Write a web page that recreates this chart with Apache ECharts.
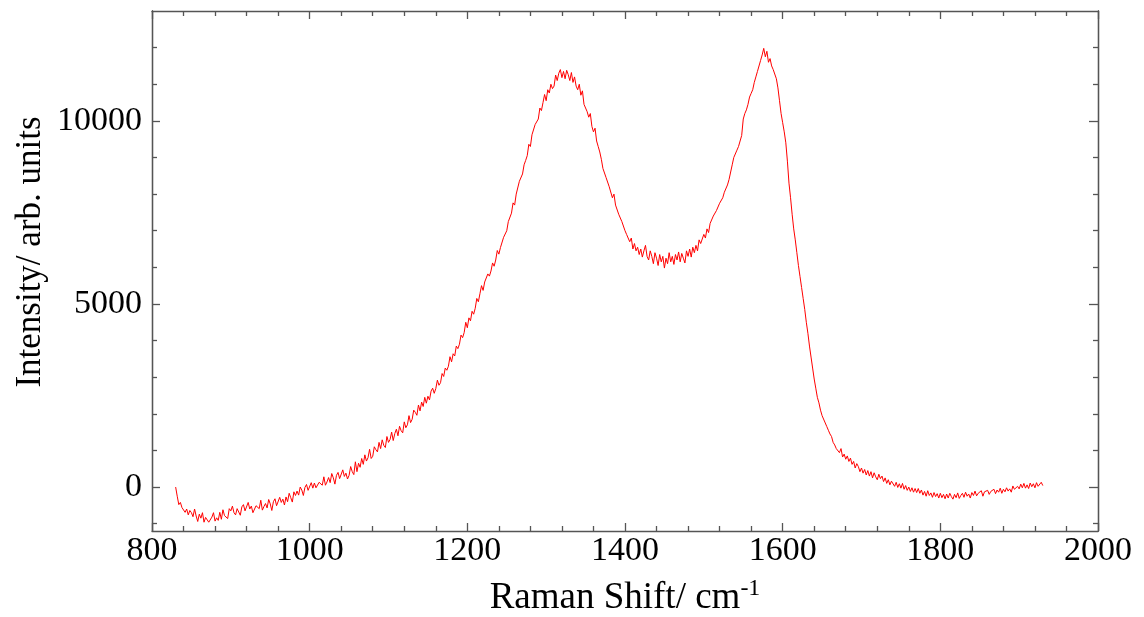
<!DOCTYPE html>
<html>
<head>
<meta charset="utf-8">
<script src="https://cdn.jsdelivr.net/npm/echarts@6/dist/echarts.min.js"></script>
<style>
html,body{margin:0;padding:0;background:#fff;}
#c{width:1144px;height:617px;}
</style>
</head>
<body>
<div id="c"></div>
<script>
// Raman spectrum: [Raman shift (cm-1), intensity (arb. units)]
const spectrum = [
[830,0],[832,-250],[834,-480],[836,-420],[838,-560],[840,-520],[842,-690],[844,-600],[846,-760],[848,-640],
[850,-700],[852,-810],[854,-600],[856,-790],[858,-940],[860,-740],[862,-850],[864,-700],[866,-960],[868,-830],
[870,-780],[872,-960],[874,-1010],[876,-820],[878,-700],[880,-930],[882,-840],[884,-910],[886,-690],[888,-880],
[890,-620],[892,-780],[894,-760],[896,-860],[898,-590],[900,-650],[902,-520],[904,-700],[906,-760],[908,-590],
[910,-590],[912,-770],[914,-540],[916,-480],[918,-650],[920,-690],[922,-420],[924,-600],[926,-520],[928,-700],
[930,-680],[932,-510],[934,-460],[936,-590],[938,-360],[940,-630],[942,-530],[944,-450],[946,-570],[948,-340],
[950,-460],[952,-640],[954,-400],[956,-320],[958,-510],[960,-520],[962,-280],[964,-420],[966,-330],[968,-490],
[970,-270],[972,-400],[974,-170],[976,-290],[978,-410],[980,-130],[982,-230],[984,-110],[986,-220],[988,0],
[990,-80],[992,-230],[994,-10],[996,70],[998,-90],[1000,-120],[1002,120],[1004,-30],[1006,110],[1008,-20],
[1010,-60],[1012,130],[1014,180],[1016,50],[1018,280],[1020,50],[1022,140],[1024,260],[1026,120],[1028,370],
[1030,250],[1032,80],[1034,320],[1036,400],[1038,230],[1040,200],[1042,470],[1044,290],[1046,380],[1048,220],
[1050,320],[1052,560],[1054,420],[1056,340],[1058,690],[1060,420],[1062,650],[1064,540],[1066,780],[1068,620],
[1070,880],[1072,710],[1074,800],[1076,1030],[1078,780],[1080,840],[1082,1100],[1084,1020],[1086,960],[1088,1220],
[1090,1050],[1092,1290],[1094,1140],[1096,1080],[1098,1380],[1100,1220],[1102,1300],[1104,1500],[1106,1270],[1108,1460],
[1110,1580],[1112,1400],[1114,1660],[1116,1540],[1118,1480],[1120,1780],[1122,1620],[1124,1700],[1126,1950],[1128,1760],
[1130,1850],[1132,2100],[1134,2040],[1136,1960],[1138,2240],[1140,2080],[1142,2320],[1144,2200],[1146,2450],[1148,2290],
[1150,2480],[1152,2380],[1154,2620],[1156,2700],[1158,2560],[1160,2690],[1162,2920],[1164,2780],[1166,2850],[1168,3100],
[1170,3020],[1172,3250],[1174,3190],[1176,3300],[1178,3560],[1180,3420],[1182,3640],[1184,3580],[1186,3850],[1188,3780],
[1190,3900],[1192,4150],[1194,4080],[1196,4220],[1198,4500],[1200,4350],[1202,4620],[1204,4540],[1206,4800],[1208,4720],
[1210,4880],[1212,5150],[1214,5060],[1216,5280],[1218,5500],[1220,5370],[1222,5600],[1224,5550],[1226,5820],[1228,5760],
[1230,5900],[1232,6120],[1234,6030],[1236,6200],[1238,6460],[1240,6360],[1242,6540],[1244,6520],[1246,6820],[1248,6780],
[1250,7000],[1252,7250],[1254,7300],[1256,7480],[1258,7760],[1260,7700],[1262,8000],[1264,8050],[1266,8350],[1268,8330],
[1270,8550],[1272,8800],[1274,8920],[1276,9050],[1278,9360],[1280,9300],[1282,9620],[1284,9650],[1286,9900],[1288,9870],
[1290,10050],[1292,10350],[1294,10280],[1296,10500],[1298,10720],[1300,10550],[1302,10850],[1304,10760],[1306,11000],[1308,10880],
[1310,10950],[1312,11250],[1314,11100],[1316,11300],[1318,11400],[1320,11180],[1322,11350],[1324,11150],[1326,11380],[1328,11260],
[1330,11100],[1332,11320],[1334,11050],[1336,11200],[1338,10950],[1340,10850],[1342,11000],[1344,10700],[1346,10820],[1348,10450],
[1350,10500],[1352,10250],[1354,10100],[1356,10200],[1358,9850],[1360,9700],[1362,9800],[1364,9450],[1366,9300],[1368,9150],
[1370,8950],[1372,8700],[1374,8680],[1376,8450],[1378,8500],[1380,8200],[1382,8150],[1384,7900],[1386,8000],[1388,7700],
[1390,7700],[1392,7450],[1394,7400],[1396,7250],[1398,7300],[1400,7000],[1402,6900],[1404,6950],[1406,6700],[1408,6800],
[1410,6500],[1412,6650],[1414,6450],[1416,6550],[1418,6350],[1420,6500],[1422,6280],[1424,6450],[1426,6600],[1428,6300],
[1430,6200],[1432,6450],[1434,6300],[1436,6100],[1438,6400],[1440,6250],[1442,6050],[1444,6350],[1446,6150],[1448,6300],
[1450,5980],[1452,6250],[1454,6100],[1456,6400],[1458,6150],[1460,6300],[1462,6080],[1464,6350],[1466,6200],[1468,6420],
[1470,6150],[1472,6380],[1474,6250],[1476,6120],[1478,6450],[1480,6300],[1482,6500],[1484,6280],[1486,6550],[1488,6400],
[1490,6600],[1492,6450],[1494,6750],[1496,6650],[1498,6700],[1500,6900],[1502,6800],[1504,7050],[1506,6950],[1508,7200],
[1510,7150],[1512,7400],[1514,7350],[1516,7550],[1518,7500],[1520,7750],[1522,7700],[1524,7900],[1526,8050],[1528,8000],
[1530,8250],[1532,8400],[1534,8350],[1536,8800],[1538,9000],[1540,8950],[1542,9200],[1544,9300],[1546,9250],[1548,9600],
[1550,10050],[1552,10200],[1554,10300],[1556,10450],[1558,10650],[1560,10750],[1562,10850],[1564,11050],[1566,11200],[1568,11350],
[1570,11400],[1572,11650],[1574,11800],[1576,11980],[1578,11750],[1580,11900],[1582,11600],[1584,11700],[1586,11500],[1588,11400],
[1590,11350],[1592,11150],[1594,10900],[1596,10550],[1598,10200],[1600,9950],[1602,9700],[1604,9400],[1606,8900],[1608,8300],
[1610,7900],[1612,7450],[1614,7050],[1616,6750],[1618,6400],[1620,6050],[1622,5750],[1624,5450],[1626,5150],[1628,4850],
[1630,4500],[1632,4200],[1634,3850],[1636,3550],[1638,3250],[1640,2950],[1642,2700],[1644,2450],[1646,2300],[1648,2100],
[1650,1950],[1652,1900],[1654,1750],[1656,1650],[1658,1550],[1660,1450],[1662,1380],[1664,1220],[1666,1150],[1668,1050],
[1670,1080],[1672,940],[1674,1050],[1676,820],[1678,900],[1680,760],[1682,850],[1684,700],[1686,790],[1688,620],
[1690,700],[1692,520],[1694,640],[1696,560],[1698,420],[1700,520],[1702,380],[1704,480],[1706,330],[1708,450],
[1710,300],[1712,420],[1714,250],[1716,390],[1718,280],[1720,200],[1722,350],[1724,230],[1726,300],[1728,150],
[1730,250],[1732,100],[1734,200],[1736,60],[1738,160],[1740,140],[1742,20],[1744,130],[1746,-10],[1748,90],
[1750,-30],[1752,100],[1754,-60],[1756,40],[1758,-90],[1760,0],[1762,-120],[1764,-20],[1766,-140],[1768,-40],
[1770,-150],[1772,-40],[1774,-170],[1776,-80],[1778,-220],[1780,-120],[1782,-250],[1784,-100],[1786,-230],[1788,-160],
[1790,-280],[1792,-150],[1794,-260],[1796,-180],[1798,-300],[1800,-170],[1802,-290],[1804,-200],[1806,-320],[1808,-190],
[1810,-300],[1812,-170],[1814,-260],[1816,-330],[1818,-200],[1820,-290],[1822,-160],[1824,-310],[1826,-230],[1828,-170],
[1830,-280],[1832,-140],[1834,-250],[1836,-190],[1838,-300],[1840,-150],[1842,-230],[1844,-110],[1846,-240],[1848,-170],
[1850,-210],[1852,-100],[1854,-250],[1856,-130],[1858,-180],[1860,-90],[1862,-200],[1864,-120],[1866,-170],[1868,-60],
[1870,-180],[1872,-80],[1874,-140],[1876,-30],[1878,-170],[1880,-60],[1882,-130],[1884,-20],[1886,-110],[1888,-50],
[1890,-140],[1892,30],[1894,-60],[1896,-110],[1898,20],[1900,-50],[1902,80],[1904,-20],[1906,100],[1908,-30],
[1910,60],[1912,-40],[1914,110],[1916,10],[1918,90],[1920,-20],[1922,120],[1924,20],[1926,70],[1928,130],
[1930,40]
];
const xRange = [800, 2000];
const yRange = [-1200, 13000];
const yMajorTicks = [0, 5000, 10000];
const yMinorTicks = [-1000, 1000, 2000, 3000, 4000, 6000, 7000, 8000, 9000, 11000, 12000];
const xTitle = 'Raman Shift/ cm';
const xTitleSup = '-1';
const yTitle = 'Intensity/ arb. units';

const FONT = 'Liberation Serif';
const AX = '#555';

function xAx(pos, labels) {
  return {
    type: 'value', position: pos, min: xRange[0], max: xRange[1], interval: 200,
    axisLine: {show: true, onZero: false, lineStyle: {color: AX, width: 1.3}},
    axisTick: {show: true, inside: true, length: 8, lineStyle: {color: AX, width: 1.3}},
    minorTick: {show: true, splitNumber: 5, length: 5, lineStyle: {color: AX, width: 1.3}},
    splitLine: {show: false},
    axisLabel: {show: labels, fontFamily: FONT, fontSize: 34, color: '#000', margin: 3,
      formatter: v => String(v)},
    name: labels ? '{a|' + xTitle + '}{s|' + xTitleSup + '}' : '',
    nameLocation: 'middle', nameGap: 46,
    nameTextStyle: {
      rich: {
        a: {fontFamily: FONT, fontSize: 37, color: '#000', verticalAlign: 'bottom'},
        s: {fontFamily: FONT, fontSize: 24, color: '#000', verticalAlign: 'top', padding: [0, 0, 16, 0]}
      }
    }
  };
}
function yAx(pos, ticks, len, labels) {
  return {
    type: 'value', position: pos, min: yRange[0], max: yRange[1],
    axisLine: {show: true, onZero: false, lineStyle: {color: AX, width: 1.3}},
    axisTick: {show: true, inside: true, length: len, customValues: ticks, lineStyle: {color: AX, width: 1.3}},
    splitLine: {show: false},
    axisLabel: {show: labels, customValues: yMajorTicks, fontFamily: FONT, fontSize: 34, color: '#000', margin: 10,
      formatter: v => String(v)}
  };
}

const chart = echarts.init(document.getElementById('c'), null, {renderer: 'canvas'});
chart.setOption({
  animation: false,
  backgroundColor: '#fff',
  grid: {left: 152, right: 46, top: 11, bottom: 86, containLabel: false, outerBoundsMode: 'none'},
  xAxis: [xAx('bottom', true), xAx('top', false)],
  yAxis: [
    yAx('left', yMajorTicks, 8, true),
    yAx('left', yMinorTicks, 5, false),
    yAx('right', yMajorTicks, 9, false),
    yAx('right', yMinorTicks, 5, false)
  ],
  graphic: [{
    type: 'text', x: 31, y: 252, rotation: Math.PI / 2,
    style: {text: yTitle, font: '35px "Liberation Serif"', fill: '#000', align: 'center', verticalAlign: 'middle'}
  }],
  series: [{
    type: 'line', data: spectrum, xAxisIndex: 0, yAxisIndex: 0,
    showSymbol: false, symbol: 'none',
    lineStyle: {color: '#ff0000', width: 1}
  }]
});
</script>
</body>
</html>
